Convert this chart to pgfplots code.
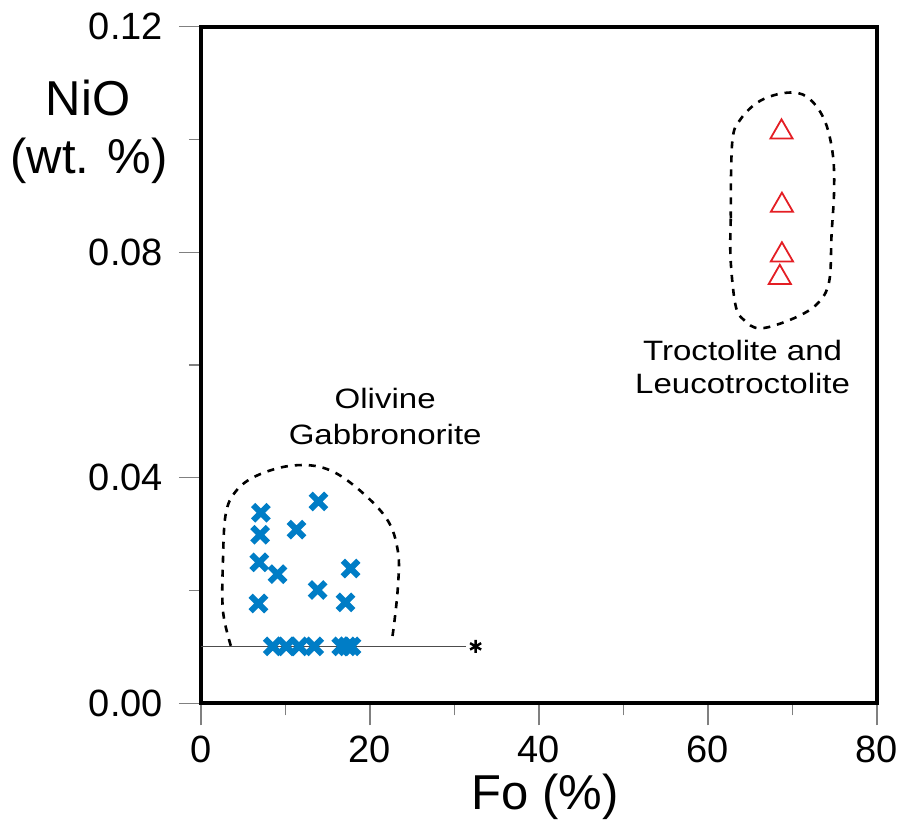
\documentclass[border=0pt]{standalone}
\usepackage{pgfplots}
\pgfplotsset{compat=1.18}
\usepackage{fontspec}
\setmainfont{Liberation Sans}
\newfontfamily\widefont[FakeStretch=1.18]{Liberation Sans}
\definecolor{xblue}{RGB}{0,125,198}
\definecolor{tred}{RGB}{228,30,36}
\begin{document}
\begin{tikzpicture}
\begin{axis}[
  scale only axis, width=338pt, height=338.3pt,
  xmin=0, xmax=80, ymin=0, ymax=0.12,
  xtick={0,20,40,60,80}, ytick={0,0.04,0.08,0.12},
  minor x tick num=1, minor y tick num=1,
  tick align=outside, xtick pos=bottom, ytick pos=left,
  major tick length=11pt, minor tick length=6pt,
  tick style={draw=gray, line width=0.6pt},
  axis line style={line width=2pt},
  tick label style={font=\fontsize{19}{22}\selectfont},
  /pgf/number format/assume math mode=true,
  scaled y ticks=false,
  yticklabel style={/pgf/number format/fixed, /pgf/number format/fixed zerofill, /pgf/number format/precision=2, xshift=-4.5pt},
  xticklabel style={yshift=-2pt},
  clip=false,
]
\coordinate (O) at (rel axis cs:0,0);
% envelope: olivine gabbronorite
\addplot[black, line width=1.3pt, dash pattern=on 3.5pt off 3.5pt, smooth, tension=0.6] coordinates {
 (3.53,0.0102) (2.6,0.0164) (2.6,0.0253) (2.93,0.0336) (4.12,0.0376) (6.49,0.0403)
 (10.45,0.0421) (14.4,0.0418) (17.96,0.0388) (21.9,0.0329) (23.3,0.0270)
 (23.3,0.0206) (22.7,0.0123) (22.4,0.0108)};
% envelope: troctolite
\addplot[black, line width=1.3pt, dash pattern=on 3.5pt off 3.5pt, smooth, tension=0.6] coordinates {
 (62.7,0.0860) (62.87,0.0995) (63.86,0.1036) (66.23,0.1069) (69.4,0.1083) (71.77,0.1075)
 (73.74,0.1036) (74.74,0.0977) (74.93,0.0912) (74.62,0.0830) (74.34,0.0748)
 (72.96,0.0709) (70.18,0.0683) (66.23,0.0665) (64.25,0.0680) (63.26,0.0706)
 (62.67,0.0789) (62.7,0.0860)};
% detection limit line
\addplot[black!70, line width=0.6pt] coordinates {(0,0.0101) (31.4,0.0101)};
\addplot[only marks, mark=asterisk, mark size=3.2pt, mark options={line width=1.2pt, black}] coordinates {(32.5,0.0101)};
% olivine gabbronorite
\addplot[only marks, mark=x, mark size=5.5pt, mark options={line width=3pt, draw=xblue}] coordinates {
 (7.09,0.0338) (7.0,0.0299) (11.3,0.0308) (13.9,0.0358) (6.9,0.0250) (9.06,0.0229)
 (17.7,0.0239) (13.8,0.0201) (6.8,0.0177) (17.1,0.0179)
 (8.5,0.0101) (10.1,0.0101) (11.6,0.0101) (13.4,0.0101) (16.6,0.0101) (17.3,0.0101) (17.8,0.0101)};
% troctolite
\addplot[only marks, mark=triangle, mark size=6.4pt, mark options={line width=0.9pt, draw=tred}] coordinates {
 (68.7,0.1013) (68.75,0.0883) (68.75,0.0795) (68.5,0.0755)};
\node[align=center, font=\widefont\fontsize{14}{18}\selectfont] at (axis cs:21.8,0.0509) {Olivine\\Gabbronorite};
\node[align=center, font=\widefont\fontsize{14}{16.5}\selectfont] at (axis cs:64.1,0.0596) {Troctolite and\\Leucotroctolite};
\end{axis}
\node[anchor=base, font=\fontsize{24.5}{29}\selectfont] at ([shift={(-56.5pt,294pt)}]O) {NiO};
\node[anchor=base, font=\fontsize{24.5}{29}\selectfont] at ([shift={(-56pt,265pt)}]O) {(wt. \%)};
\node[anchor=base, font=\fontsize{24.5}{29}\selectfont] at ([shift={(172pt,-53pt)}]O) {Fo (\%)};
\pgfresetboundingbox
\path ([shift={(-100.5pt,-62.85pt)}]O) rectangle ([shift={(351pt,351.65pt)}]O);
\end{tikzpicture}
\end{document}
